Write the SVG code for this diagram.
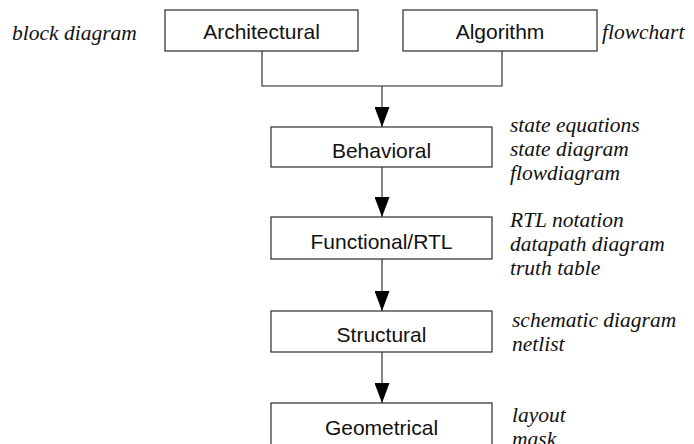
<svg xmlns="http://www.w3.org/2000/svg" width="694" height="444" viewBox="0 0 694 444">
  <style>
    .box { fill: #ffffff; stroke: #2a2a2a; stroke-width: 1.2; }
    .name { font-family: "Liberation Sans", Arial, sans-serif; font-size: 21px; fill: #111; text-anchor: middle; }
    .note { font-family: "Liberation Serif", "Times New Roman", serif; font-style: italic; font-size: 21.5px; fill: #111; }
    .wire { fill: none; stroke: #222; stroke-width: 1.1; }
  </style>
  <defs>
    <marker id="arrow" viewBox="0 0 20 15" refX="20" refY="7.5" markerWidth="20" markerHeight="15" markerUnits="userSpaceOnUse" orient="auto">
      <path d="M0,0 L20,7.5 L0,15 z" fill="#000"/>
    </marker>
  </defs>

  <rect width="694" height="444" fill="#ffffff"/>

  <!-- connectors -->
  <g id="connectors">
    <polyline class="wire" points="262,51 262,86 502,86 502,51"/>
    <line class="wire" x1="382" y1="86" x2="382" y2="127" marker-end="url(#arrow)"/>
    <line class="wire" x1="382" y1="167" x2="382" y2="217" marker-end="url(#arrow)"/>
    <line class="wire" x1="382" y1="259" x2="382" y2="311" marker-end="url(#arrow)"/>
    <line class="wire" x1="382" y1="352" x2="382" y2="403" marker-end="url(#arrow)"/>
  </g>

  <!-- top level -->
  <g id="architectural">
    <rect class="box" x="165" y="10" width="193" height="41"/>
    <text class="name" x="261.5" y="39">Architectural</text>
    <text class="note" x="12" y="40">block diagram</text>
  </g>
  <g id="algorithm">
    <rect class="box" x="403" y="10" width="194" height="41"/>
    <text class="name" x="500" y="39">Algorithm</text>
    <text class="note" x="602" y="39">flowchart</text>
  </g>

  <g id="behavioral">
    <rect class="box" x="271" y="127" width="221" height="40"/>
    <text class="name" x="381.5" y="158">Behavioral</text>
    <text class="note" x="510" y="132">state equations</text>
    <text class="note" x="510" y="156">state diagram</text>
    <text class="note" x="510" y="180">flowdiagram</text>
  </g>

  <g id="functional">
    <rect class="box" x="271" y="217" width="221" height="42"/>
    <text class="name" x="381.5" y="249">Functional/RTL</text>
    <text class="note" x="510" y="227">RTL notation</text>
    <text class="note" x="510" y="251">datapath diagram</text>
    <text class="note" x="510" y="275">truth table</text>
  </g>

  <g id="structural">
    <rect class="box" x="271" y="311" width="221" height="41"/>
    <text class="name" x="381.5" y="342">Structural</text>
    <text class="note" x="512" y="327">schematic diagram</text>
    <text class="note" x="512" y="351">netlist</text>
  </g>

  <g id="geometrical">
    <rect class="box" x="271" y="403" width="221" height="44"/>
    <text class="name" x="381.5" y="435">Geometrical</text>
    <text class="note" x="512" y="422">layout</text>
    <text class="note" x="512" y="446">mask</text>
  </g>
</svg>
